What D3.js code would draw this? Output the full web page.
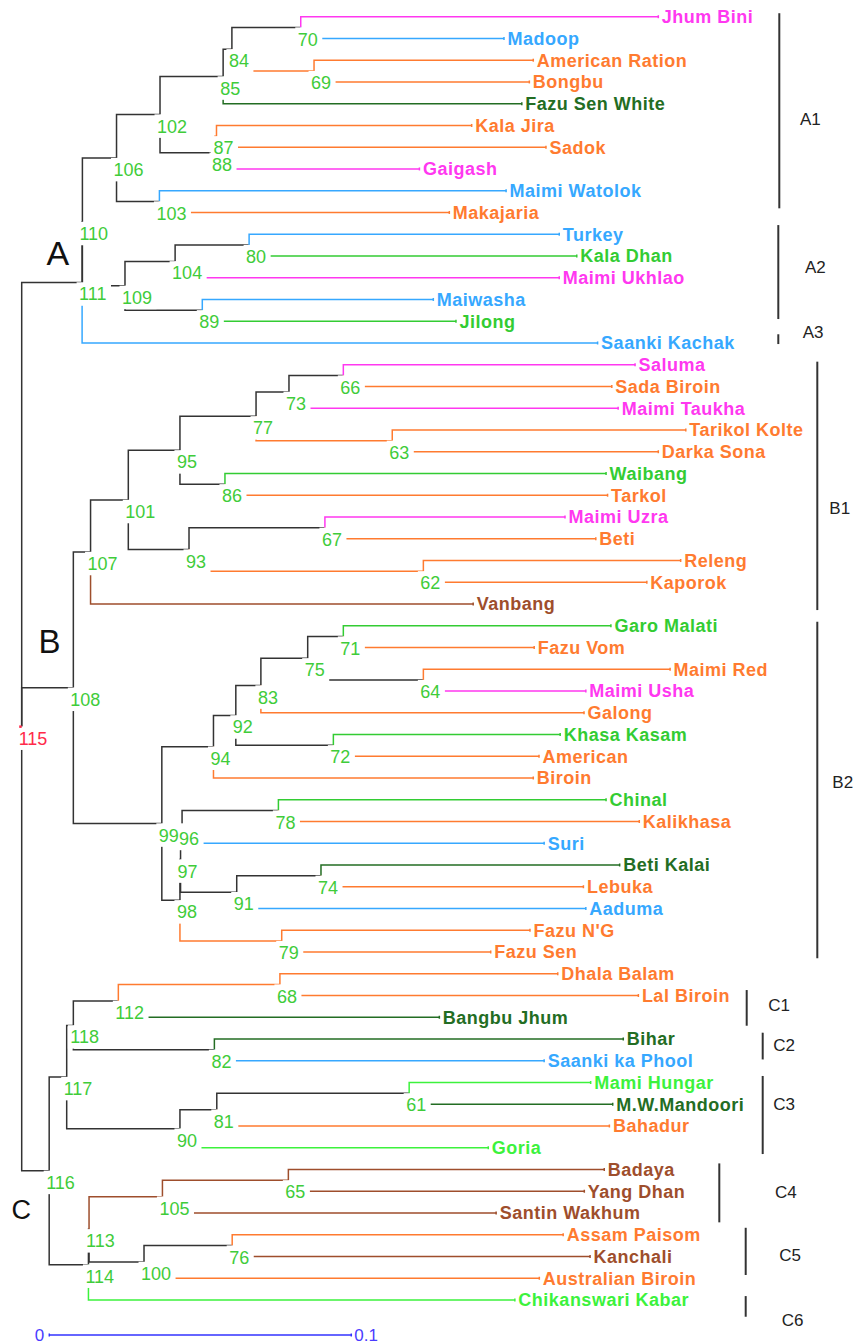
<!DOCTYPE html>
<html>
<head>
<meta charset="utf-8">
<script src="https://cdn.jsdelivr.net/npm/d3@7"></script>
<style>
  body { margin: 0; background: #fff; }
  svg { display: block; }
</style>
</head>
<body>
<svg id="tree-svg" width="857" height="1344"></svg>
<script>
// leaves, top to bottom
const leafNames = ['Jhum Bini','Madoop','American Ration','Bongbu','Fazu Sen White','Kala Jira','Sadok','Gaigash','Maimi Watolok','Makajaria',
  'Turkey','Kala Dhan','Maimi Ukhlao','Maiwasha','Jilong','Saanki Kachak','Saluma','Sada Biroin','Maimi Taukha','Tarikol Kolte',
  'Darka Sona','Waibang','Tarkol','Maimi Uzra','Beti','Releng','Kaporok','Vanbang','Garo Malati','Fazu Vom',
  'Maimi Red','Maimi Usha','Galong','Khasa Kasam','American','Biroin','Chinal','Kalikhasa','Suri','Beti Kalai',
  'Lebuka','Aaduma',"Fazu N'G",'Fazu Sen','Dhala Balam','Lal Biroin','Bangbu Jhum','Bihar','Saanki ka Phool','Mami Hungar',
  'M.W.Mandoori','Bahadur','Goria','Badaya','Yang Dhan','Santin Wakhum','Assam Paisom','Kanchali','Australian Biroin','Chikanswari Kabar'];

const leafGroups = ['M','B','O','O','DG','O','O','M','B','O',
  'B','G','M','B','G','B','M','O','M','O',
  'O','G','O','M','O','O','O','Br','G','O',
  'O','M','O','G','O','O','G','O','B','DG',
  'O','B','O','O','O','O','DG','DG','B','LG',
  'DG','O','LG','Br','Br','Br','O','Br','O','LG'];

// distance from root to each leaf
const leafDist = [0.2108,0.1597,0.1694,0.1681,0.1656,0.1490,0.1736,0.1317,0.1604,0.1416,
  0.1780,0.1838,0.1780,0.1363,0.1438,0.1907,0.2031,0.1954,0.1975,0.2199,
  0.2108,0.1935,0.1940,0.1799,0.1901,0.2182,0.2070,0.1495,0.1951,0.1697,
  0.2147,0.1868,0.1862,0.1783,0.1713,0.1694,0.1935,0.2045,0.1730,0.1980,
  0.1860,0.1868,0.1683,0.1553,0.1775,0.2042,0.1383,0.1992,0.1730,0.1884,
  0.1957,0.1946,0.1545,0.1929,0.1863,0.1571,0.1793,0.1882,0.1714,0.1633];

// internal nodes: label, children, distance from root
const nodeIds = [115,111,110,106,102,85,84,70,69,88,87,103,109,104,80,89,
  108,107,101,95,77,73,66,63,86,93,67,62,99,94,92,83,75,71,64,72,98,97,96,78,91,74,79,
  116,117,118,112,68,82,90,81,61,114,113,105,65,100,76];

const nodeKids = [
  [111,108,116], [110,'Saanki Kachak'], [106,109], [102,103], [85,88], [84,'Fazu Sen White'], [70,69],
  ['Jhum Bini','Madoop'], ['American Ration','Bongbu'], [87,'Gaigash'], ['Kala Jira','Sadok'],
  ['Maimi Watolok','Makajaria'], [104,89], [80,'Maimi Ukhlao'], ['Turkey','Kala Dhan'], ['Maiwasha','Jilong'],
  [107,99], [101,'Vanbang'], [95,93], [77,86], [73,63], [66,'Maimi Taukha'], ['Saluma','Sada Biroin'],
  ['Tarikol Kolte','Darka Sona'], ['Waibang','Tarkol'], [67,62], ['Maimi Uzra','Beti'], ['Releng','Kaporok'],
  [94,98], [92,'Biroin'], [83,72], [75,'Galong'], [71,64], ['Garo Malati','Fazu Vom'], ['Maimi Red','Maimi Usha'],
  ['Khasa Kasam','American'], [97,79], [96,91], [78,'Suri'], ['Chinal','Kalikhasa'], [74,'Aaduma'],
  ['Beti Kalai','Lebuka'], ["Fazu N'G",'Fazu Sen'],
  [117,114], [118,90], [112,82], [68,'Bangbu Jhum'], ['Dhala Balam','Lal Biroin'], ['Bihar','Saanki ka Phool'],
  [81,'Goria'], [61,'Bahadur'], ['Mami Hungar','M.W.Mandoori'], [113,'Chikanswari Kabar'], [105,100],
  [65,'Santin Wakhum'], ['Badaya','Yang Dhan'], [76,'Australian Biroin'], ['Assam Paisom','Kanchali']];

const nodeDist = [0,0.0200,0.0201,0.0314,0.0458,0.0667,0.0696,0.0924,0.0968,0.0640,0.0645,0.0456,0.0342,0.0508,0.0753,0.0598,
  0.0171,0.0228,0.0353,0.0524,0.0776,0.0885,0.1065,0.1227,0.0673,0.0554,0.1004,0.1330,0.0464,0.0635,0.0709,0.0792,
  0.0947,0.1065,0.1330,0.1032,0.0524,0.0526,0.0531,0.0850,0.0712,0.0991,0.0861,
  0.0091,0.0149,0.0171,0.0320,0.0855,0.0638,0.0524,0.0646,0.1283,0.0221,0.0223,0.0466,0.0883,0.0405,0.0697];

// cluster brackets on the right, spans in leaf-row units
const cladeNames = ['A1','A2','A3','B1','B2','C1','C2','C3','C4','C5','C6'];
const cladeSpan = [[-0.16,8.81],[9.58,13.9],[14.6,15.05],[15.86,27.28],[27.82,43.29],[44.75,46.39],
  [46.71,47.94],[48.7,52.29],[52.72,55.43],[55.68,57.85],[58.82,59.77]];
const cladeRow = [4.98,11.78,14.77,22.86,35.46,45.72,47.55,50.27,54.31,57.21,60.2];

const GROUP_COLOURS = {
  M: '#ff38f0', B: '#36a8ff', O: '#ff7b30', DG: '#236d23',
  G: '#33cc33', LG: '#3cf23c', Br: '#9e4e2c'
};
const LINE = '#333';
const FONT = 'Liberation Sans, Arial, sans-serif';

const svg = d3.select('#tree-svg');
const x = d3.scaleLinear().domain([0, 0.1]).range([21.7, 323.7]);
const y = d3.scaleLinear().domain([0, leafNames.length - 1]).range([16.7, 1300]);

// build the hierarchy
const byKey = new Map();
leafNames.forEach((n, i) => byKey.set(n, { name: n, idx: i, group: leafGroups[i], dist: leafDist[i] }));
nodeIds.forEach((id, i) => byKey.set(id, { name: String(id), dist: nodeDist[i], kids: nodeKids[i] }));
function build(key) {
  const n = byKey.get(key);
  if (n.kids) n.children = n.kids.map(build);
  return n;
}
const root = d3.hierarchy(build(115));

root.eachAfter(d => {
  d.px = x(d.data.dist);
  if (!d.children) {
    d.py = y(d.data.idx);
    d.groups = new Set([d.data.group]);
  } else {
    d.py = (d.children[0].py + d.children[d.children.length - 1].py) / 2;
    d.groups = new Set(d.children.flatMap(c => [...c.groups]));
  }
});
const colourOf = d => d.groups.size === 1 ? GROUP_COLOURS[[...d.groups][0]] : LINE;

// branches
const links = root.descendants().filter(d => d.parent);
svg.append('g')
  .selectAll('path').data(links).join('path')
  .attr('d', d => `M${d.parent.px},${d.parent.py}V${d.py}H${d.px}`)
  .attr('fill', 'none')
  .attr('stroke', d => colourOf(d))
  .attr('stroke-width', 1.5);

// small end ticks on leaves
const leaves = root.leaves();
svg.append('g')
  .selectAll('line').data(leaves).join('line')
  .attr('x1', d => d.px).attr('x2', d => d.px)
  .attr('y1', d => d.py - 1.5).attr('y2', d => d.py + 1.5)
  .attr('stroke', d => colourOf(d)).attr('stroke-width', 1.5);

// leaf names
svg.append('g')
  .selectAll('text').data(leaves).join('text')
  .attr('x', d => d.px + 3.5)
  .attr('y', d => d.py + 6.3)
  .attr('font-family', FONT)
  .attr('font-size', 18).attr('font-weight', 700)
  .attr('letter-spacing', '0.5px')
  .attr('fill', d => colourOf(d))
  .text(d => d.data.name);

// node labels with white backing that hides the branches
const inner = root.descendants().filter(d => d.children);
const backs = svg.append('g');
const labels = svg.append('g')
  .selectAll('text').data(inner).join('text')
  .attr('x', d => d.px - 3)
  .attr('y', d => d.py + 18)
  .attr('font-family', FONT)
  .attr('font-size', 18)
  .attr('fill', d => d === root ? '#ff2a4a' : '#3fcc3a')
  .text(d => d.data.name);
labels.each(function() {
  const b = this.getBBox();
  backs.append('rect')
    .attr('x', b.x - 2.5).attr('y', b.y - 2.2)
    .attr('width', b.width + 7).attr('height', b.height + 3.5)
    .attr('fill', '#fff');
});

// root stem mark
svg.append('line')
  .attr('x1', root.px - 2.5).attr('x2', root.px)
  .attr('y1', root.py).attr('y2', root.py)
  .attr('stroke', '#ff2a4a').attr('stroke-width', 2.5);

// big clade letters
const bigLetters = [['A', 46.5, 265, 34], ['B', 38.5, 653, 33], ['C', 11.5, 1219, 27]];
svg.append('g')
  .selectAll('text').data(bigLetters).join('text')
  .attr('x', d => d[1]).attr('y', d => d[2])
  .attr('font-family', FONT)
  .attr('font-size', d => d[3]).attr('fill', '#111')
  .text(d => d[0]);

// right-hand brackets
const bracketX = [779.3, 778.3, 778.3, 817.3, 817.3, 746.7, 762.7, 762.7, 719.3, 745.7, 745.7];
const bracketLabelX = [800, 805, 802.7, 829.3, 832.3, 768.3, 773.3, 773.3, 775, 779.3, 781.7];
const br = svg.append('g')
  .selectAll('g').data(cladeNames).join('g');
br.append('line')
  .attr('x1', (d, i) => bracketX[i]).attr('x2', (d, i) => bracketX[i])
  .attr('y1', (d, i) => y(cladeSpan[i][0])).attr('y2', (d, i) => y(cladeSpan[i][1]))
  .attr('stroke', '#333').attr('stroke-width', 2);
br.append('text')
  .attr('x', (d, i) => bracketLabelX[i]).attr('y', (d, i) => y(cladeRow[i]))
  .attr('font-family', FONT)
  .attr('font-size', 17).attr('fill', '#222')
  .text(d => d);

// scale bar
const bar = d3.scaleLinear().domain([0, 0.1]).range([49.3, 49.3 + x(0.1) - x(0)]);
const barY = 1335;
svg.append('line')
  .attr('x1', bar(0)).attr('x2', bar(0.1))
  .attr('y1', barY).attr('y2', barY)
  .attr('stroke', '#3333ff').attr('stroke-width', 1.5);
svg.append('g')
  .selectAll('line').data([0, 0.1]).join('line')
  .attr('x1', d => bar(d)).attr('x2', d => bar(d))
  .attr('y1', barY - 1.5).attr('y2', barY + 1.5)
  .attr('stroke', '#3333ff').attr('stroke-width', 1.5);
svg.append('text')
  .attr('x', bar(0) - 5).attr('y', barY + 6)
  .attr('text-anchor', 'end')
  .attr('font-family', FONT)
  .attr('font-size', 17).attr('fill', '#4a3cff')
  .text('0');
svg.append('text')
  .attr('x', bar(0.1) + 3).attr('y', barY + 6)
  .attr('font-family', FONT)
  .attr('font-size', 17).attr('fill', '#4a3cff')
  .text('0.1');
</script>
</body>
</html>
